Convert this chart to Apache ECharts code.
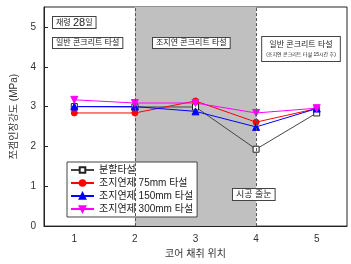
<!DOCTYPE html>
<html>
<head>
<meta charset="utf-8">
<script src="https://cdn.jsdelivr.net/npm/echarts@6/dist/echarts.min.js"></script>
<style>
  html, body { margin: 0; padding: 0; background: #fff; }
  #chart { width: 351px; height: 264px; }
</style>
</head>
<body>
<div id="chart"></div>
<script>
// 코어 채취 위치별 쪼갬인장강도
const positions = ['1', '2', '3', '4', '5']
const yTicks = [0, 1, 2, 3, 4, 5]
const splitCast = [3.0, 2.99, 2.99, 1.93, 2.84]    // 분할타설
const retard75 = [2.84, 2.84, 3.14, 2.61, 2.95]    // 조지연제 75mm 타설
const retard150 = [3.0, 3.0, 2.88, 2.49, 2.95]     // 조지연제 150mm 타설
const retard300 = [3.17, 3.09, 3.09, 2.84, 2.96]   // 조지연제 300mm 타설

const font = '"Liberation Sans", "Noto Sans CJK KR", sans-serif'

const myChart = echarts.init(document.getElementById('chart'))

const lineSeries = (name, data, color, symbol, extra) => Object.assign({
  name: name,
  type: 'line',
  data: data,
  z: 3,
  symbol: symbol,
  symbolSize: 6,
  lineStyle: { color: color, width: 1 },
  itemStyle: { color: color, borderColor: color, borderWidth: 1 }
}, extra || {})

// 텍스트 박스
const box = (text, x, y, size, extra) => Object.assign({
  type: 'text',
  x: x,
  y: y,
  z: 10,
  style: {
    text: text,
    font: size + 'px ' + font,
    fill: '#222',
    backgroundColor: '#fff',
    borderColor: '#444',
    borderWidth: 1,
    padding: [1, 3]
  }
}, extra || {})

const options = {
  animation: false,
  textStyle: { fontFamily: font },
  grid: {
    left: 44,
    right: 4,
    top: 7,
    bottom: 34,
    show: true,
    borderColor: '#222',
    borderWidth: 1,
    backgroundColor: 'transparent'
  },
  legend: {
    orient: 'vertical',
    left: 67,
    top: 162,
    itemWidth: 23,
    itemHeight: 7,
    itemGap: 3,
    padding: [3, 4, 3, 3],
    backgroundColor: '#fff',
    borderColor: '#444',
    borderWidth: 1,
    textStyle: { fontSize: 10, color: '#222', fontFamily: font },
    data: ['분할타설', '조지연제 75mm 타설', '조지연제 150mm 타설', '조지연제 300mm 타설']
  },
  xAxis: {
    type: 'category',
    data: positions,
    boundaryGap: true,
    name: '코어 채취 위치',
    nameLocation: 'middle',
    nameGap: 22,
    nameTextStyle: { fontSize: 10, color: '#333' },
    axisLine: { lineStyle: { color: '#222' } },
    axisTick: { inside: true, alignWithLabel: true, length: 4, lineStyle: { color: '#222' } },
    axisLabel: { fontSize: 10, color: '#333', margin: 8 },
    splitLine: { show: false }
  },
  yAxis: {
    type: 'value',
    min: 0,
    max: 5.5,
    name: '쪼갬인장강도 (MPa)',
    nameLocation: 'middle',
    nameGap: 22,
    nameTextStyle: { fontSize: 10, color: '#333' },
    axisLine: { show: true, lineStyle: { color: '#222' } },
    axisTick: { show: true, inside: true, length: 4, customValues: yTicks, lineStyle: { color: '#222' } },
    axisLabel: { fontSize: 10, color: '#333', margin: 8, customValues: yTicks },
    splitLine: { show: false }
  },
  series: [
    {
      // 조지연 콘크리트 구간 음영
      name: 'zone',
      type: 'line',
      data: [],
      z: 1,
      markArea: {
        silent: true,
        itemStyle: { color: '#c0c0c0' },
        data: [[{ xAxis: '2' }, { xAxis: '4' }]]
      },
      markLine: {
        silent: true,
        symbol: 'none',
        label: { show: false },
        lineStyle: { color: '#555', type: [3, 2], width: 1 },
        data: [{ xAxis: '2' }, { xAxis: '4' }]
      }
    },
    lineSeries('분할타설', splitCast, '#444', 'rect', {
      itemStyle: { color: '#fff', borderColor: '#222', borderWidth: 1 }
    }),
    lineSeries('조지연제 75mm 타설', retard75, '#ff0000', 'circle'),
    lineSeries('조지연제 150mm 타설', retard150, '#0000ff', 'triangle', { symbolSize: 7 }),
    lineSeries('조지연제 300mm 타설', retard300, '#ff00ff', 'triangle', { symbolSize: 7, symbolRotate: 180 })
  ],
  graphic: [
    box('재령 {b|28}일', 53, 17, 8, {
      style: {
        text: '재령 {b|28}일',
        font: '8px ' + font,
        fill: '#222',
        backgroundColor: '#fff',
        borderColor: '#444',
        borderWidth: 1,
        padding: [0, 3],
        rich: { b: { fontSize: 11, fontFamily: font, fill: '#222' } }
      }
    }),
    box('일반 콘크리트 타설', 53, 38, 8),
    box('조지연 콘크리트 타설', 153, 38, 8),
    box('일반 콘크리트 타설\n{s|(조지연 콘크리트 타설 15시간 후)}', 261, 37, 8, {
      style: {
        text: '일반 콘크리트 타설\n{s|(조지연 콘크리트 타설 15시간 후)}',
        font: '8px ' + font,
        fill: '#222',
        align: 'center',
        backgroundColor: '#fff',
        borderColor: '#444',
        borderWidth: 1,
        padding: [2, 4],
        lineHeight: 11,
        rich: { s: { fontSize: 5, fontFamily: font, fill: '#222', lineHeight: 9 } }
      },
      x: 301
    }),
    box('시공 줄눈', 233, 189, 9)
  ]
}

myChart.setOption(options)
</script>
</body>
</html>
